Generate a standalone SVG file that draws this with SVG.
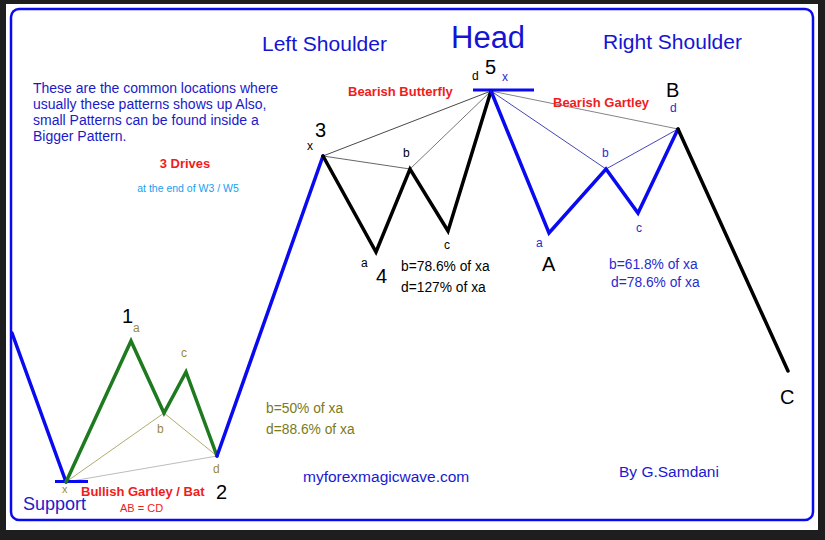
<svg xmlns="http://www.w3.org/2000/svg" width="825" height="540" viewBox="0 0 825 540">
<defs>
<style>
text{font-family:"Liberation Sans",Arial,sans-serif;}
.wave{fill:none;stroke-width:3.5;stroke-linejoin:miter;stroke-linecap:round;}
.blue{stroke:#0a0af0;}
.green{stroke:#1e7a1e;}
.black{stroke:#000;}
.thin{fill:none;stroke-width:0.9;}
.big{font-size:20px;fill:#000;}
.sm{font-size:12px;}
.ratio{font-size:13.8px;}
.red{fill:#f01c1c;font-weight:bold;font-size:13px;}
.title{font-size:21px;fill:#1414d2;}
</style>
</defs>
<rect x="0" y="0" width="825" height="540" fill="#1e1e1e"/>
<rect x="6" y="4" width="812" height="526" fill="#fff"/>
<rect x="11" y="9" width="802" height="511" rx="8" fill="none" stroke="#0a0af0" stroke-width="2.5"/>

<g id="connectors">
<line class="thin" x1="66" y1="482" x2="164" y2="413" stroke="#a8a060"/>
<line class="thin" x1="164" y1="413" x2="217" y2="456" stroke="#a8a060"/>
<line class="thin" x1="66" y1="482" x2="217" y2="456" stroke="#b4b4b4" stroke-width="1.3"/>
<line class="thin" x1="323" y1="156" x2="491" y2="91" stroke="#333"/>
<line class="thin" x1="323" y1="156" x2="410" y2="169" stroke="#555"/>
<line class="thin" x1="410" y1="169" x2="491" y2="91" stroke="#666"/>
<line class="thin" x1="491" y1="91" x2="678" y2="129" stroke="#777" stroke-width="1.2"/>
<line class="thin" x1="491" y1="91" x2="606" y2="169" stroke="#3030b0"/>
<line class="thin" x1="606" y1="169" x2="678" y2="129" stroke="#3030b0"/>
<line x1="55" y1="481.5" x2="88" y2="481.5" stroke="#0a0af0" stroke-width="3"/>
<line x1="473" y1="90" x2="534" y2="90" stroke="#0a0af0" stroke-width="3"/>
<polyline class="wave blue" points="12,333 66,482"/>
<polyline class="wave green" points="66,482 131,341 164,413 186,372 217,456"/>
<polyline class="wave blue" points="217,456 323,156"/>
<polyline class="wave black" points="323,156 376,252 410,169 448,231 491,91"/>
<polyline class="wave blue" points="491,91 549,233 606,169 638,213 678,129"/>
<polyline class="wave black" points="678,129 788,371"/>
</g>

<g id="titles">
<text class="title" x="262" y="51">Left Shoulder</text>
<text x="451" y="48" style="font-size:31px;fill:#1414d2">Head</text>
<text class="title" x="603" y="49">Right Shoulder</text>
</g>

<g id="intro" style="font-size:14px;fill:#1a1ac8">
<text x="33" y="93">These are the common locations where</text>
<text x="33" y="109">usually these patterns shows up Also,</text>
<text x="33" y="125">small Patterns can be found inside a</text>
<text x="33" y="141">Bigger Pattern.</text>
</g>

<g id="drives">
<text class="red" x="185" y="168" text-anchor="middle">3 Drives</text>
<text x="188" y="192" text-anchor="middle" style="font-size:10.5px;fill:#1a9ef0">at the end of W3 / W5</text>
</g>

<g id="bullish">
<text class="big" x="122" y="323">1</text>
<text class="sm" x="133" y="332" fill="#9a8a3a">a</text>
<text class="sm" x="181" y="357" fill="#9a8a3a">c</text>
<text class="sm" x="157" y="433" fill="#9a8a3a">b</text>
<text class="sm" x="213" y="473" fill="#9a8a3a">d</text>
<text x="62" y="493" style="font-size:11px" fill="#9a8a3a">x</text>
<text class="red" x="81" y="496">Bullish Gartley / Bat</text>
<text class="big" x="216" y="499">2</text>
<text x="23" y="510" style="font-size:18px;fill:#2020c8">Support</text>
<text x="120" y="512" style="font-size:11px;fill:#f02020">AB = CD</text>
<text class="ratio" x="266" y="413" fill="#7a7a20">b=50% of xa</text>
<text class="ratio" x="266" y="434" fill="#7a7a20">d=88.6% of xa</text>
</g>

<g id="butterfly">
<text class="big" x="315" y="137">3</text>
<text class="sm" x="307" y="150" fill="#000">x</text>
<text class="sm" x="403" y="157" fill="#000">b</text>
<text class="sm" x="361" y="267" fill="#000">a</text>
<text class="big" x="376" y="283">4</text>
<text class="sm" x="444" y="249" fill="#000">c</text>
<text class="ratio" x="401" y="271" fill="#000">b=78.6% of xa</text>
<text class="ratio" x="401" y="292" fill="#000">d=127% of xa</text>
<text class="red" x="348" y="96">Bearish Butterfly</text>
<text class="sm" x="472" y="80" fill="#000">d</text>
<text class="big" x="485" y="74">5</text>
<text class="sm" x="502" y="81" fill="#2a2ad0">x</text>
</g>

<g id="gartley">
<text class="red" x="553" y="107">Bearish Gartley</text>
<text class="big" x="666" y="97">B</text>
<text class="sm" x="670" y="112" fill="#2a2ad0">d</text>
<text class="sm" x="602" y="157" fill="#2a2ad0">b</text>
<text class="sm" x="636" y="232" fill="#2a2ad0">c</text>
<text class="sm" x="536" y="247" fill="#2a2ad0">a</text>
<text class="big" x="542" y="271">A</text>
<text class="ratio" x="609" y="269" fill="#2a2ad0">b=61.8% of xa</text>
<text class="ratio" x="611" y="287" fill="#2a2ad0">d=78.6% of xa</text>
<text class="big" x="780" y="404">C</text>
</g>

<g id="credits" style="fill:#1a1ad2">
<text x="303" y="482" style="font-size:15.5px">myforexmagicwave.com</text>
<text x="619" y="477" style="font-size:15.5px">By G.Samdani</text>
</g>
</svg>
